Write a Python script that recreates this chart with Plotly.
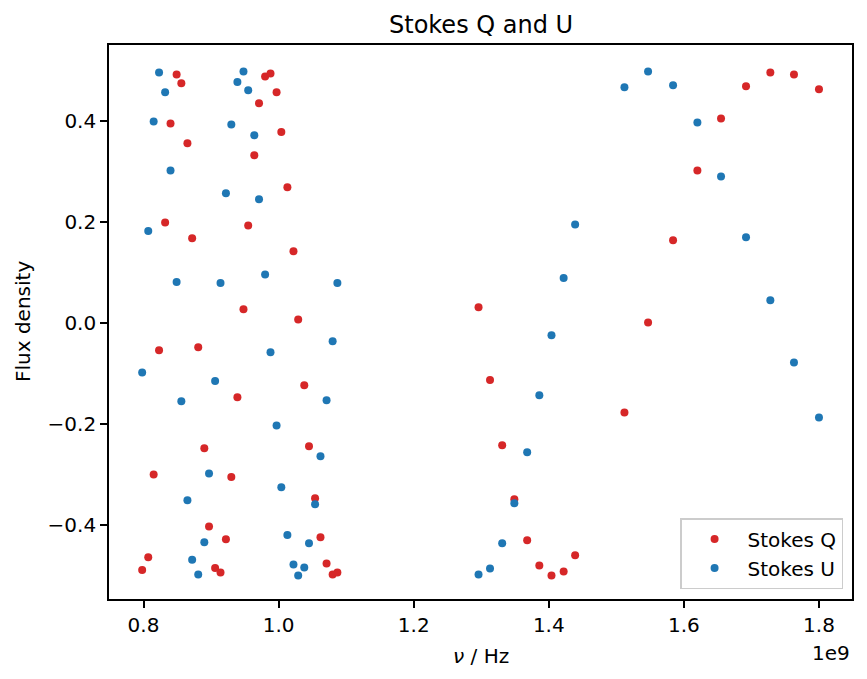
import plotly.graph_objects as go

# Frequencies in GHz
freq_ghz = [0.798, 0.807, 0.815, 0.823, 0.832, 0.840, 0.849, 0.856, 0.865, 0.872,
            0.881, 0.890, 0.897, 0.906, 0.914, 0.922, 0.930, 0.939, 0.948, 0.955,
            0.964, 0.971, 0.980, 0.988, 0.997, 1.004, 1.013, 1.022, 1.029, 1.038,
            1.045, 1.054, 1.062, 1.071, 1.080, 1.087,
            1.296, 1.313, 1.331, 1.349, 1.368, 1.386, 1.404, 1.422, 1.439,
            1.512, 1.547, 1.584, 1.620, 1.655, 1.692, 1.728, 1.763, 1.800]

stokes_q = [-0.489, -0.464, -0.300, -0.054, 0.199, 0.395, 0.492, 0.475, 0.356, 0.168,
            -0.048, -0.248, -0.403, -0.485, -0.494, -0.428, -0.305, -0.147, 0.027, 0.193,
            0.332, 0.435, 0.488, 0.494, 0.457, 0.378, 0.269, 0.142, 0.007, -0.123,
            -0.244, -0.347, -0.424, -0.476, -0.498, -0.494,
            0.031, -0.113, -0.242, -0.349, -0.430, -0.480, -0.500, -0.492, -0.460,
            -0.177, 0.001, 0.164, 0.302, 0.405, 0.469, 0.496, 0.492, 0.463]

stokes_u = [-0.098, 0.182, 0.399, 0.496, 0.457, 0.302, 0.081, -0.155, -0.351, -0.469,
            -0.498, -0.434, -0.298, -0.115, 0.079, 0.257, 0.393, 0.477, 0.498, 0.461,
            0.372, 0.245, 0.096, -0.058, -0.203, -0.325, -0.420, -0.478, -0.500, -0.484,
            -0.436, -0.359, -0.264, -0.153, -0.036, 0.079,
            -0.498, -0.486, -0.436, -0.357, -0.256, -0.143, -0.024, 0.089, 0.195,
            0.467, 0.498, 0.471, 0.397, 0.290, 0.170, 0.045, -0.078, -0.187]

x_tick_vals = [0.8, 1.0, 1.2, 1.4, 1.6, 1.8]
x_tick_text = ["0.8", "1.0", "1.2", "1.4", "1.6", "1.8"]
y_tick_vals = [-0.4, -0.2, 0.0, 0.2, 0.4]
y_tick_text = ["\u22120.4", "\u22120.2", "0.0", "0.2", "0.4"]

freq_hz = [f * 1e9 for f in freq_ghz]

FONT = "DejaVu Sans"
RED = "#d62728"
BLUE = "#1f77b4"

fig = go.Figure()
fig.add_trace(go.Scatter(x=freq_hz, y=stokes_q, mode="markers", name="Stokes Q",
                         marker=dict(color=RED, size=8, line=dict(width=0))))
fig.add_trace(go.Scatter(x=freq_hz, y=stokes_u, mode="markers", name="Stokes U",
                         marker=dict(color=BLUE, size=8, line=dict(width=0))))

axis_common = dict(showline=True, mirror=True, linecolor="black", linewidth=1.6,
                   ticks="outside", ticklen=7, tickwidth=1.6, tickcolor="black",
                   showgrid=False, zeroline=False,
                   tickfont=dict(family=FONT, size=20, color="black"))

fig.update_xaxes(range=[0.7489e9, 1.8489e9], tickmode="array",
                 tickvals=[v * 1e9 for v in x_tick_vals], ticktext=x_tick_text,
                 **axis_common)
fig.update_yaxes(range=[-0.5465, 0.5505], tickmode="array",
                 tickvals=y_tick_vals, ticktext=y_tick_text, **axis_common)

fig.update_layout(
    width=867, height=679,
    margin=dict(l=109, r=15, t=45, b=80),
    paper_bgcolor="white", plot_bgcolor="white",
    font=dict(family=FONT, size=20, color="black"),
    showlegend=True,
    legend=dict(x=0.988, y=0.018, xanchor="right", yanchor="bottom",
                bgcolor="rgba(255,255,255,0.8)", bordercolor="#cccccc", borderwidth=1.5,
                font=dict(family=FONT, size=20, color="black"),
                itemwidth=56, tracegroupgap=0),
    annotations=[
        dict(text="Stokes Q and U", x=0.5, y=1.0367, xref="paper", yref="paper",
             xanchor="center", yanchor="middle", showarrow=False,
             font=dict(family=FONT, size=24, color="black")),
        dict(text="<i>ν</i> / Hz", x=0.5, y=-0.1029, xref="paper", yref="paper",
             xanchor="center", yanchor="middle", showarrow=False,
             font=dict(family=FONT, size=20, color="black")),
        dict(text="1e9", x=1.0, y=-0.098, xref="paper", yref="paper",
             xanchor="right", yanchor="middle", showarrow=False,
             font=dict(family=FONT, size=20, color="black")),
        dict(text="Flux density", x=-0.1157, y=0.5, xref="paper", yref="paper",
             xanchor="center", yanchor="middle", showarrow=False, textangle=-90,
             font=dict(family=FONT, size=20, color="black")),
    ],
)

fig.write_html("out.html")
